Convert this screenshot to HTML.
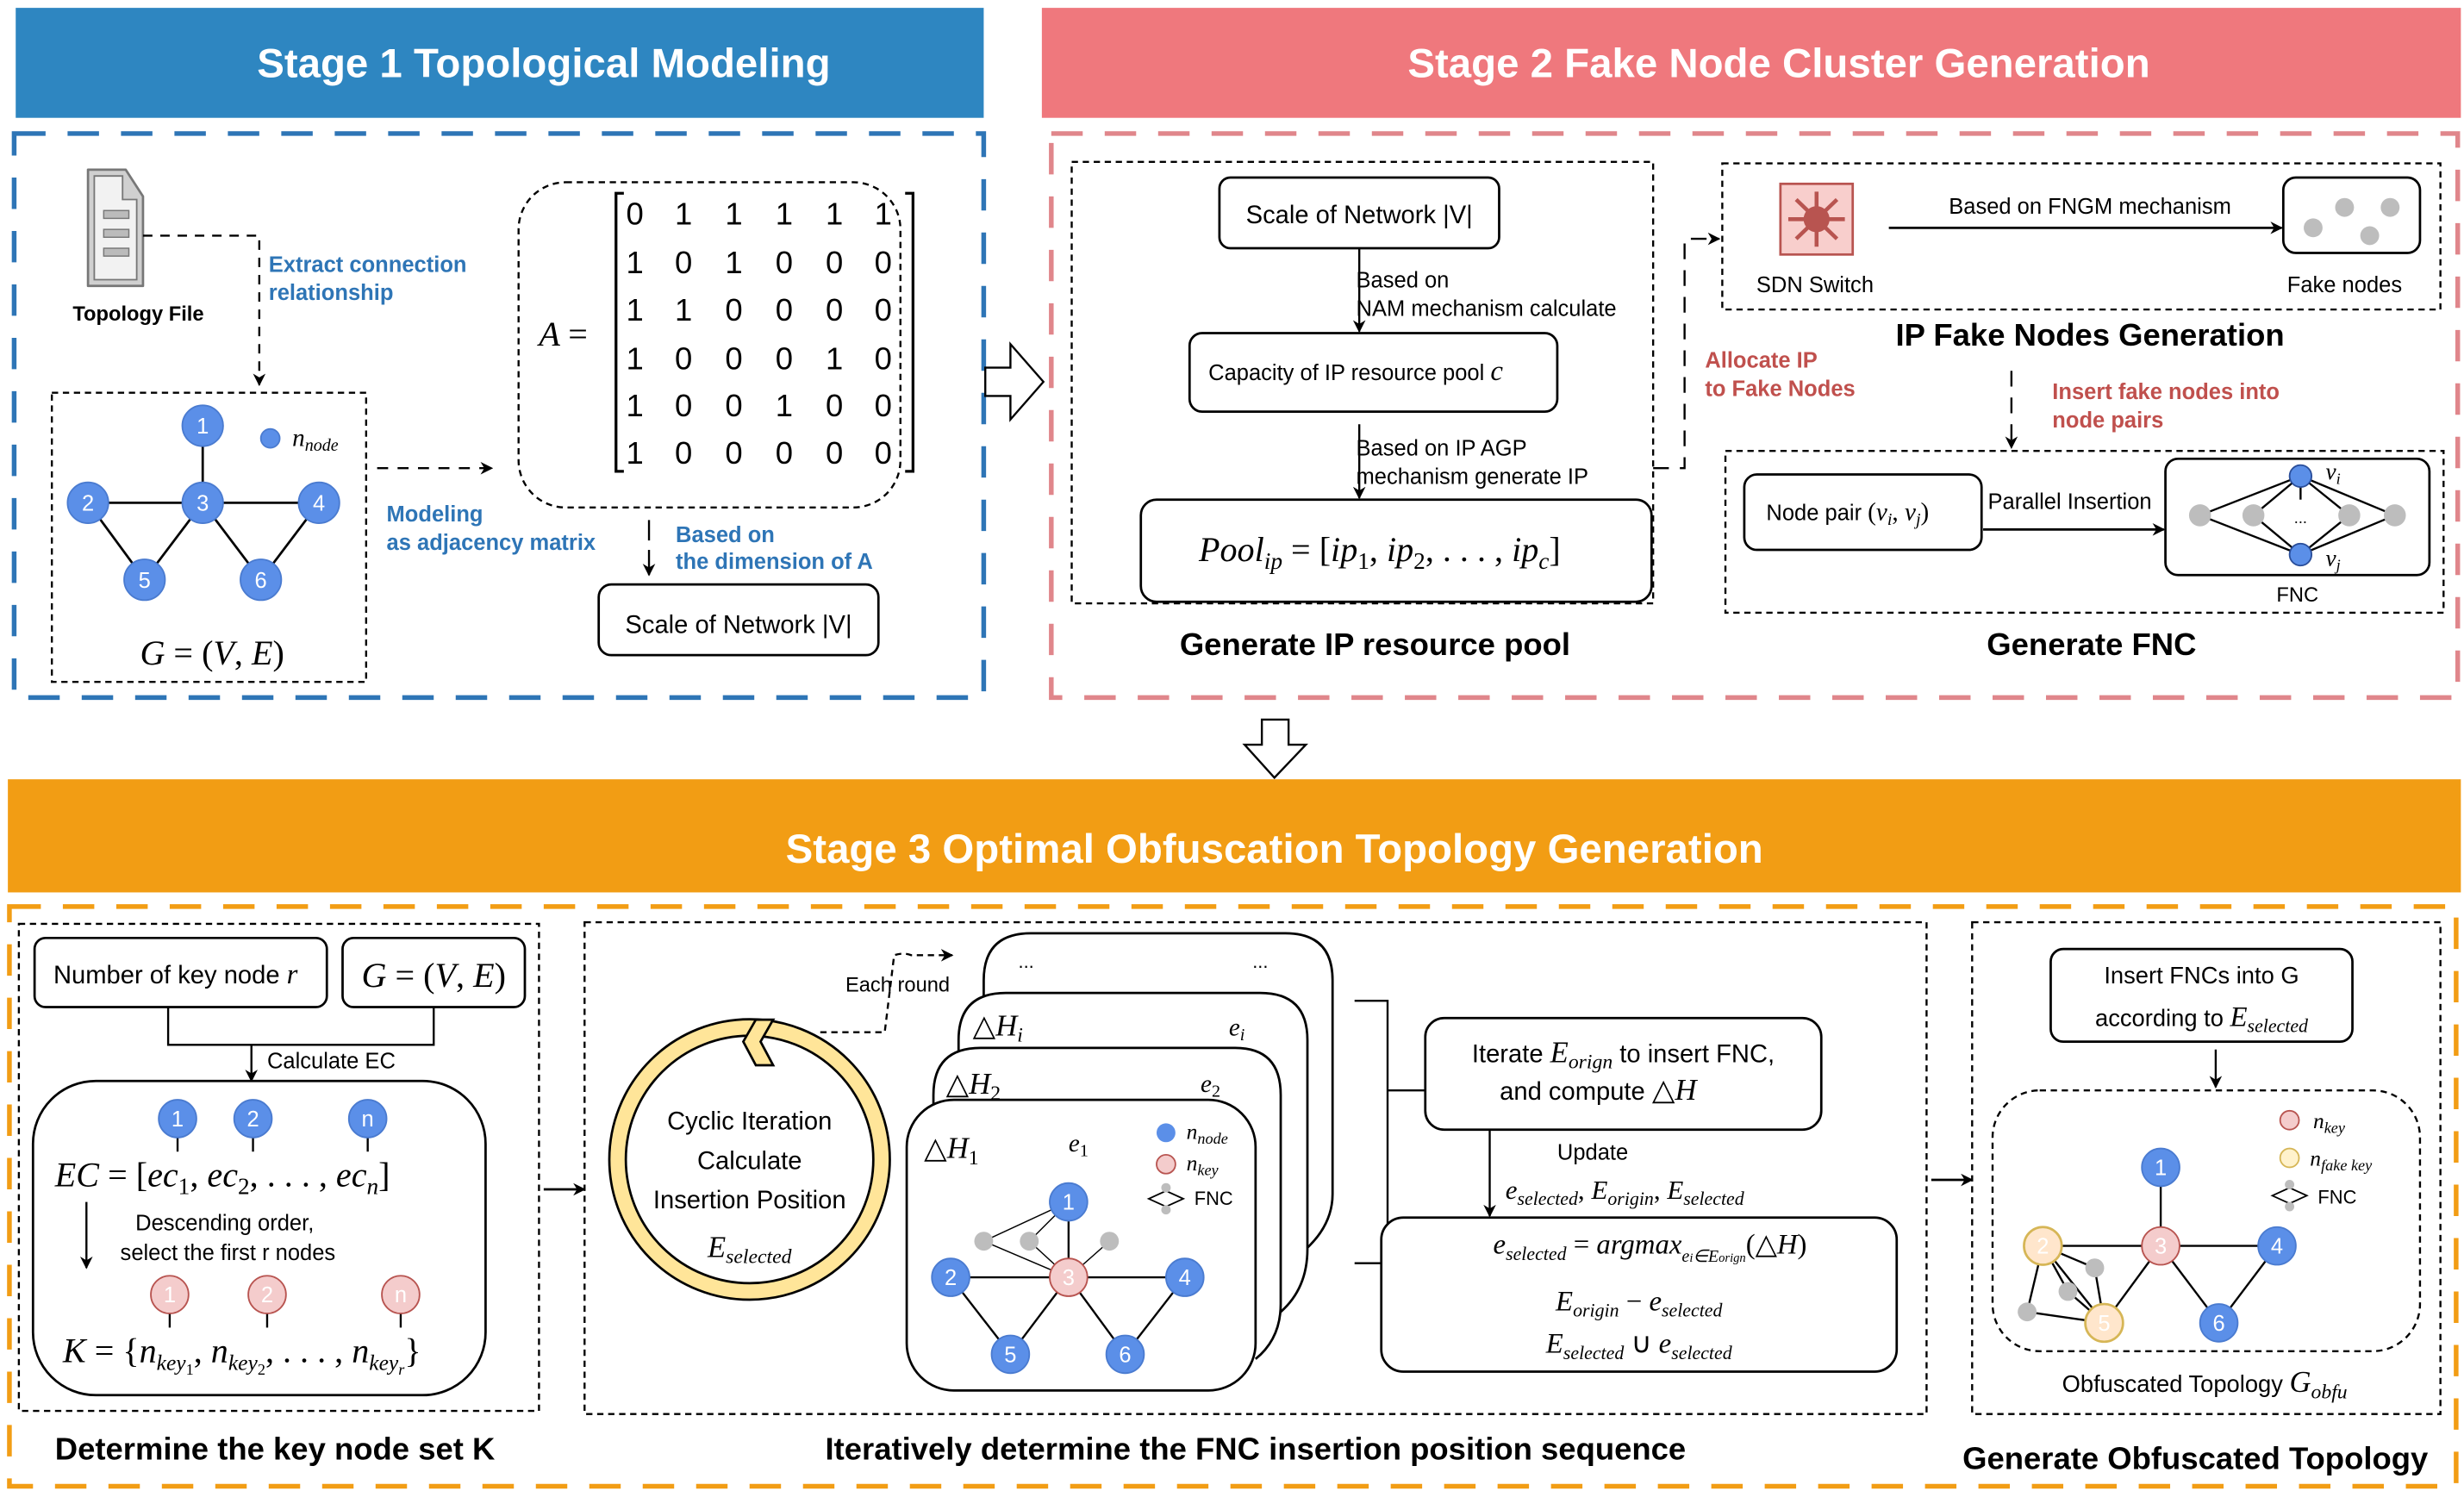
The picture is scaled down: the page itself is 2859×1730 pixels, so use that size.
<!DOCTYPE html>
<html><head><meta charset="utf-8"><style>
html,body{margin:0;padding:0;background:#fff;}
svg{display:block;}
text{font-family:"Liberation Sans",Arial,sans-serif;}
.m{font-family:"Liberation Serif",serif;font-style:italic;}
.mr{font-family:"Liberation Serif",serif;}
.b{font-weight:bold;}
</style></head><body>
<svg width="2859" height="1730" viewBox="0 0 1568 949" preserveAspectRatio="none" xmlns="http://www.w3.org/2000/svg">
<defs>
<marker id="ar" viewBox="0 0 10 10" refX="9" refY="5" markerWidth="8" markerHeight="8" orient="auto-start-reverse" markerUnits="userSpaceOnUse"><path d="M0,0 L10,5 L0,10 L3,5 z" fill="#000"/></marker>
</defs>
<rect width="1568" height="949" fill="#fff"/>

<rect x="10" y="5" width="616" height="70" fill="#2E86C1"/>
<text x="346" y="49" text-anchor="middle" fill="#fff" class="b" font-size="26">Stage 1 Topological Modeling</text>
<rect x="663" y="5" width="903" height="70" fill="#EF787D"/>
<text x="1132" y="49" text-anchor="middle" fill="#fff" class="b" font-size="26">Stage 2 Fake Node Cluster Generation</text>
<rect x="5" y="496" width="1561" height="72" fill="#F29D14"/>
<text x="811" y="549" text-anchor="middle" fill="#fff" class="b" font-size="26">Stage 3 Optimal Obfuscation Topology Generation</text>

<rect x="9" y="85" width="617" height="359" fill="none" stroke="#2E75B6" stroke-width="3" stroke-dasharray="20 14"/>
<rect x="669" y="85" width="895" height="359" fill="none" stroke="#E0868B" stroke-width="3" stroke-dasharray="20 14"/>
<rect x="6" y="577" width="1557" height="369" fill="none" stroke="#F29D14" stroke-width="3" stroke-dasharray="20 14"/>

<path d="M627,234 L643,234 L643,219 L664,243 L643,267 L643,252 L627,252 Z" fill="#fff" stroke="#000" stroke-width="1.3"/>
<path d="M803,458 L820,458 L820,474 L831,474 L811,495 L792,474 L803,474 Z" fill="#fff" stroke="#000" stroke-width="1.3"/>

<path d="M56,108 L80,108 L91,125 L91,182 L56,182 Z" fill="#D0D0D0" stroke="#777" stroke-width="1.5" stroke-linejoin="round"/>
<path d="M60,112 L78,112 L78,127 L87,127 L87,178 L60,178 Z" fill="#F2F2F2" stroke="#777" stroke-width="1"/>
<rect x="66" y="134" width="16" height="5" fill="#BBB" stroke="#777" stroke-width="0.8"/>
<rect x="66" y="146" width="16" height="5" fill="#BBB" stroke="#777" stroke-width="0.8"/>
<rect x="66" y="158" width="16" height="5" fill="#BBB" stroke="#777" stroke-width="0.8"/>
<text x="88" y="204" text-anchor="middle" class="b" font-size="13">Topology File</text>
<path d="M91,150 L165,150 L165,245" fill="none" stroke="#000" stroke-width="1.3" stroke-dasharray="6 5" marker-end="url(#ar)"/>
<text x="171" y="173" fill="#2E75B6" class="b" font-size="14">Extract connection</text>
<text x="171" y="191" fill="#2E75B6" class="b" font-size="14">relationship</text>

<rect x="33" y="250" width="200" height="184" fill="none" stroke="#000" stroke-width="1.3" stroke-dasharray="4 3"/>
<g stroke="#000" stroke-width="1.5">
<line x1="129" y1="271" x2="129" y2="320"/><line x1="56" y1="320" x2="203" y2="320"/>
<line x1="56" y1="320" x2="92" y2="369"/><line x1="129" y1="320" x2="92" y2="369"/>
<line x1="129" y1="320" x2="166" y2="369"/><line x1="203" y1="320" x2="166" y2="369"/>
</g>
<g fill="#5B8FE8" stroke="#4A7BD0" stroke-width="1">
<circle cx="129" cy="271" r="13"/><circle cx="56" cy="320" r="13"/><circle cx="129" cy="320" r="13"/><circle cx="203" cy="320" r="13"/><circle cx="92" cy="369" r="13"/><circle cx="166" cy="369" r="13"/>
<circle cx="172" cy="279" r="6"/>
</g>
<g fill="#fff" font-size="14" text-anchor="middle">
<text x="129" y="276">1</text><text x="56" y="325">2</text><text x="129" y="325">3</text><text x="203" y="325">4</text><text x="92" y="374">5</text><text x="166" y="374">6</text>
</g>
<text x="186" y="284" class="m" font-size="16">n<tspan font-size="11" dy="3">node</tspan></text>
<text x="135" y="423" text-anchor="middle" class="m" font-size="22">G <tspan class="mr" font-style="normal">= (</tspan>V<tspan font-style="normal">, </tspan>E<tspan font-style="normal">)</tspan></text>

<line x1="240" y1="298" x2="313" y2="298" stroke="#000" stroke-width="1.3" stroke-dasharray="7 6" marker-end="url(#ar)"/>
<text x="246" y="332" fill="#2E75B6" class="b" font-size="14">Modeling</text>
<text x="246" y="350" fill="#2E75B6" class="b" font-size="14">as adjacency matrix</text>

<rect x="330" y="116" width="243" height="207" rx="30" fill="none" stroke="#000" stroke-width="1.3" stroke-dasharray="4 3"/>
<text x="343" y="220" class="m" font-size="22">A <tspan font-style="normal">=</tspan></text>
<path d="M397,123 L392,123 L392,300 L397,300" fill="none" stroke="#000" stroke-width="1.8"/>
<path d="M576,123 L581,123 L581,300 L576,300" fill="none" stroke="#000" stroke-width="1.8"/>
<g class="mr" font-size="20" text-anchor="middle">
<text y="143"><tspan x="404">0</tspan><tspan x="435">1</tspan><tspan x="467">1</tspan><tspan x="499">1</tspan><tspan x="531">1</tspan><tspan x="562">1</tspan></text>
<text y="174"><tspan x="404">1</tspan><tspan x="435">0</tspan><tspan x="467">1</tspan><tspan x="499">0</tspan><tspan x="531">0</tspan><tspan x="562">0</tspan></text>
<text y="204"><tspan x="404">1</tspan><tspan x="435">1</tspan><tspan x="467">0</tspan><tspan x="499">0</tspan><tspan x="531">0</tspan><tspan x="562">0</tspan></text>
<text y="235"><tspan x="404">1</tspan><tspan x="435">0</tspan><tspan x="467">0</tspan><tspan x="499">0</tspan><tspan x="531">1</tspan><tspan x="562">0</tspan></text>
<text y="265"><tspan x="404">1</tspan><tspan x="435">0</tspan><tspan x="467">0</tspan><tspan x="499">1</tspan><tspan x="531">0</tspan><tspan x="562">0</tspan></text>
<text y="295"><tspan x="404">1</tspan><tspan x="435">0</tspan><tspan x="467">0</tspan><tspan x="499">0</tspan><tspan x="531">0</tspan><tspan x="562">0</tspan></text>
</g>
<line x1="413" y1="331" x2="413" y2="344" stroke="#000" stroke-width="1.3"/>
<line x1="413" y1="350" x2="413" y2="366" stroke="#000" stroke-width="1.3" marker-end="url(#ar)"/>
<text x="430" y="345" fill="#2E75B6" class="b" font-size="14">Based on</text>
<text x="430" y="362" fill="#2E75B6" class="b" font-size="14">the dimension of A</text>
<rect x="381" y="372" width="178" height="45" rx="8" fill="#fff" stroke="#000" stroke-width="1.5"/>
<text x="470" y="403" text-anchor="middle" font-size="16">Scale of Network  |V|</text>

<rect x="682" y="103" width="370" height="281" fill="none" stroke="#000" stroke-width="1.3" stroke-dasharray="4 3"/>
<rect x="776" y="113" width="178" height="45" rx="7" fill="#fff" stroke="#000" stroke-width="1.5"/>
<text x="865" y="142" text-anchor="middle" font-size="16">Scale of Network  |V|</text>
<line x1="865" y1="158" x2="865" y2="211" stroke="#000" stroke-width="1.3" marker-end="url(#ar)"/>
<text x="863" y="183" font-size="14">Based on</text>
<text x="863" y="201" font-size="14">NAM mechanism calculate</text>
<rect x="757" y="212" width="234" height="50" rx="8" fill="#fff" stroke="#000" stroke-width="1.5"/>
<text x="769" y="242" font-size="14">Capacity of IP resource pool  <tspan class="m" font-size="18">c</tspan></text>
<line x1="865" y1="270" x2="865" y2="317" stroke="#000" stroke-width="1.3" marker-end="url(#ar)"/>
<text x="863" y="290" font-size="14">Based on IP AGP</text>
<text x="863" y="308" font-size="14">mechanism generate IP</text>
<rect x="726" y="318" width="325" height="65" rx="10" fill="#fff" stroke="#000" stroke-width="1.5"/>
<text x="878" y="357" text-anchor="middle" class="m" font-size="22">Pool<tspan font-size="15" dy="5">ip</tspan><tspan dy="-5" font-style="normal"> = [</tspan>ip<tspan font-size="15" dy="5" font-style="normal">1</tspan><tspan dy="-5" font-style="normal">, </tspan>ip<tspan font-size="15" dy="5" font-style="normal">2</tspan><tspan dy="-5" font-style="normal">, . . . , </tspan>ip<tspan font-size="15" dy="5">c</tspan><tspan dy="-5" font-style="normal">]</tspan></text>
<text x="875" y="417" text-anchor="middle" class="b" font-size="20">Generate IP resource pool</text>

<path d="M1052,298 L1072,298 L1072,152 L1094,152" fill="none" stroke="#000" stroke-width="1.3" stroke-dasharray="10 7" marker-end="url(#ar)"/>
<text x="1085" y="234" fill="#C0504D" class="b" font-size="14">Allocate IP</text>
<text x="1085" y="252" fill="#C0504D" class="b" font-size="14">to Fake Nodes</text>

<rect x="1096" y="104" width="457" height="93" fill="none" stroke="#000" stroke-width="1.3" stroke-dasharray="4 3"/>
<rect x="1133" y="117" width="46" height="45" fill="#F8CECC" stroke="#B85450" stroke-width="1.5"/>
<g stroke="#B85450" stroke-width="2.5" fill="#B85450">
<line x1="1156" y1="122" x2="1156" y2="157"/><line x1="1138" y1="139.5" x2="1174" y2="139.5"/>
<line x1="1143" y1="127" x2="1169" y2="152"/><line x1="1169" y1="127" x2="1143" y2="152"/>
<circle cx="1156" cy="139.5" r="7"/>
</g>
<text x="1155" y="186" text-anchor="middle" font-size="14">SDN Switch</text>
<line x1="1202" y1="145" x2="1452" y2="145" stroke="#000" stroke-width="1.5" marker-end="url(#ar)"/>
<text x="1330" y="136" text-anchor="middle" font-size="14">Based on FNGM mechanism</text>
<rect x="1453" y="113" width="87" height="48" rx="8" fill="#fff" stroke="#000" stroke-width="1.5"/>
<g fill="#BDBDBD"><circle cx="1472" cy="145" r="6"/><circle cx="1492" cy="132" r="6"/><circle cx="1521" cy="132" r="6"/><circle cx="1508" cy="150" r="6"/></g>
<text x="1492" y="186" text-anchor="middle" font-size="14">Fake nodes</text>
<text x="1330" y="220" text-anchor="middle" class="b" font-size="20">IP Fake Nodes Generation</text>
<line x1="1280" y1="236" x2="1280" y2="285" stroke="#000" stroke-width="1.3" stroke-dasharray="10 7" marker-end="url(#ar)"/>
<text x="1306" y="254" fill="#C0504D" class="b" font-size="14">Insert fake nodes into</text>
<text x="1306" y="272" fill="#C0504D" class="b" font-size="14">node pairs</text>

<rect x="1098" y="287" width="457" height="103" fill="none" stroke="#000" stroke-width="1.3" stroke-dasharray="4 3"/>
<rect x="1110" y="302" width="151" height="48" rx="8" fill="#fff" stroke="#000" stroke-width="1.5"/>
<text x="1124" y="331" font-size="14">Node pair  <tspan class="m" font-size="16"><tspan font-style="normal">(</tspan>v<tspan font-size="11" dy="3">i</tspan><tspan dy="-3" font-style="normal">, </tspan>v<tspan font-size="11" dy="3">j</tspan><tspan dy="-3" font-style="normal">)</tspan></tspan></text>
<text x="1265" y="324" font-size="14">Parallel Insertion</text>
<line x1="1262" y1="337" x2="1377" y2="337" stroke="#000" stroke-width="1.5" marker-end="url(#ar)"/>
<rect x="1378" y="292" width="168" height="74" rx="8" fill="#fff" stroke="#000" stroke-width="1.5"/>
<g stroke="#000" stroke-width="1.3">
<line x1="1464" y1="303" x2="1400" y2="328"/><line x1="1464" y1="303" x2="1434" y2="328"/><line x1="1464" y1="303" x2="1495" y2="328"/><line x1="1464" y1="303" x2="1524" y2="328"/>
<line x1="1464" y1="353" x2="1400" y2="328"/><line x1="1464" y1="353" x2="1434" y2="328"/><line x1="1464" y1="353" x2="1495" y2="328"/><line x1="1464" y1="353" x2="1524" y2="328"/>
<line x1="1464" y1="310" x2="1464" y2="318"/>
</g>
<g fill="#BDBDBD"><circle cx="1400" cy="328" r="7"/><circle cx="1434" cy="328" r="7"/><circle cx="1495" cy="328" r="7"/><circle cx="1524" cy="328" r="7"/></g>
<text x="1464" y="333" text-anchor="middle" font-size="10">...</text>
<g fill="#5B8FE8" stroke="#2A4E9A" stroke-width="1"><circle cx="1464" cy="303" r="7"/><circle cx="1464" cy="353" r="7"/></g>
<text x="1480" y="305" class="m" font-size="15">v<tspan font-size="10" dy="3">i</tspan></text>
<text x="1480" y="360" class="m" font-size="15">v<tspan font-size="10" dy="3">j</tspan></text>
<text x="1462" y="383" text-anchor="middle" font-size="13">FNC</text>
<text x="1331" y="417" text-anchor="middle" class="b" font-size="20">Generate FNC</text>

<rect x="12" y="588" width="331" height="310" fill="none" stroke="#000" stroke-width="1.3" stroke-dasharray="4 3"/>
<rect x="22" y="597" width="186" height="44" rx="7" fill="#fff" stroke="#000" stroke-width="1.5"/>
<text x="34" y="626" font-size="16">Number of key node <tspan class="m" font-size="18">r</tspan></text>
<rect x="218" y="597" width="116" height="44" rx="7" fill="#fff" stroke="#000" stroke-width="1.5"/>
<text x="276" y="628" text-anchor="middle" class="m" font-size="22">G <tspan font-style="normal">= (</tspan>V<tspan font-style="normal">, </tspan>E<tspan font-style="normal">)</tspan></text>
<path d="M107,641 L107,665 L276,665 L276,641" fill="none" stroke="#000" stroke-width="1.3"/>
<line x1="160" y1="665" x2="160" y2="688" stroke="#000" stroke-width="1.3" marker-end="url(#ar)"/>
<text x="170" y="680" font-size="14">Calculate EC</text>
<rect x="21" y="688" width="288" height="200" rx="40" fill="#fff" stroke="#000" stroke-width="1.5"/>
<g stroke="#000" stroke-width="1.3"><line x1="113" y1="724" x2="113" y2="733"/><line x1="161" y1="724" x2="161" y2="733"/><line x1="234" y1="724" x2="234" y2="733"/>
<line x1="108" y1="836" x2="108" y2="845"/><line x1="170" y1="836" x2="170" y2="845"/><line x1="255" y1="836" x2="255" y2="845"/></g>
<g fill="#5B8FE8" stroke="#4A7BD0"><circle cx="113" cy="712" r="12"/><circle cx="161" cy="712" r="12"/><circle cx="234" cy="712" r="12"/></g>
<g fill="#fff" font-size="14" text-anchor="middle"><text x="113" y="717">1</text><text x="161" y="717">2</text><text x="234" y="717">n</text></g>
<text x="35" y="755" class="m" font-size="22">EC <tspan font-style="normal">= [</tspan>ec<tspan font-size="15" dy="5" font-style="normal">1</tspan><tspan dy="-5" font-style="normal">, </tspan>ec<tspan font-size="15" dy="5" font-style="normal">2</tspan><tspan dy="-5" font-style="normal">, . . . , </tspan>ec<tspan font-size="15" dy="5">n</tspan><tspan dy="-5" font-style="normal">]</tspan></text>
<line x1="55" y1="765" x2="55" y2="807" stroke="#000" stroke-width="1.3" marker-end="url(#ar)"/>
<text x="143" y="783" text-anchor="middle" font-size="14">Descending order,</text>
<text x="145" y="802" text-anchor="middle" font-size="14">select the first r nodes</text>
<g fill="#F4CCCC" stroke="#B85450"><circle cx="108" cy="824" r="12"/><circle cx="170" cy="824" r="12"/><circle cx="255" cy="824" r="12"/></g>
<g fill="#fff" font-size="14" text-anchor="middle"><text x="108" y="829">1</text><text x="170" y="829">2</text><text x="255" y="829">n</text></g>
<text x="40" y="867" class="m" font-size="22">K <tspan font-style="normal">= {</tspan>n<tspan font-size="14" dy="5">key</tspan><tspan font-size="10" dy="3" font-style="normal">1</tspan><tspan dy="-8" font-style="normal">, </tspan>n<tspan font-size="14" dy="5">key</tspan><tspan font-size="10" dy="3" font-style="normal">2</tspan><tspan dy="-8" font-style="normal">, . . . , </tspan>n<tspan font-size="14" dy="5">key</tspan><tspan font-size="10" dy="3">r</tspan><tspan dy="-8" font-style="normal">}</tspan></text>
<text x="175" y="929" text-anchor="middle" class="b" font-size="20">Determine the key node set K</text>

<line x1="346" y1="757" x2="372" y2="757" stroke="#000" stroke-width="1.5" marker-end="url(#ar)"/>

<rect x="372" y="587" width="854" height="313" fill="none" stroke="#000" stroke-width="1.3" stroke-dasharray="4 3"/>
<circle cx="477" cy="738" r="84" fill="none" stroke="#000" stroke-width="12"/>
<circle cx="477" cy="738" r="84" fill="none" stroke="#FFE599" stroke-width="9"/>
<path d="M481,649 L492,649 L484,663 L492,678 L481,678 L473,663 Z" fill="#FFE599" stroke="#000" stroke-width="1.5"/>
<text x="477" y="719" text-anchor="middle" font-size="16">Cyclic Iteration</text>
<text x="477" y="744" text-anchor="middle" font-size="16">Calculate</text>
<text x="477" y="769" text-anchor="middle" font-size="16">Insertion Position</text>
<text x="477" y="800" text-anchor="middle" class="m" font-size="19">E<tspan font-size="13" dy="4">selected</tspan></text>
<text x="538" y="631" font-size="13">Each round</text>
<path d="M522,657 L563,657 L569,608 Q575,606 580,608 L606,608" fill="none" stroke="#000" stroke-width="1.3" stroke-dasharray="4 3" marker-end="url(#ar)"/>

<path d="M626,790 L626,624 Q626,594 656,594 L818,594 Q848,594 848,624 L848,760 Q848,780 830,796" fill="#fff" stroke="#000" stroke-width="1.5"/>
<path d="M610,830 L610,662 Q610,632 640,632 L802,632 Q832,632 832,662 L832,795 Q832,820 815,835" fill="#fff" stroke="#000" stroke-width="1.5"/>
<path d="M594,862 L594,697 Q594,667 624,667 L786,667 Q815,667 815,697 L815,830 Q815,852 799,865" fill="#fff" stroke="#000" stroke-width="1.5"/>
<rect x="577" y="700" width="222" height="185" rx="30" fill="#fff" stroke="#000" stroke-width="1.5"/>
<text x="648" y="616" font-size="12">...</text><text x="797" y="616" font-size="12">...</text>
<text x="619" y="659" class="m" font-size="19"><tspan font-style="normal">△</tspan>H<tspan font-size="13" dy="4">i</tspan></text>
<text x="782" y="659" class="m" font-size="16">e<tspan font-size="11" dy="3">i</tspan></text>
<text x="602" y="696" class="m" font-size="19"><tspan font-style="normal">△</tspan>H<tspan font-size="13" dy="4" font-style="normal">2</tspan></text>
<text x="764" y="695" class="m" font-size="16">e<tspan font-size="11" dy="3" font-style="normal">2</tspan></text>
<text x="588" y="737" class="m" font-size="19"><tspan font-style="normal">△</tspan>H<tspan font-size="13" dy="4" font-style="normal">1</tspan></text>
<text x="680" y="733" class="m" font-size="16">e<tspan font-size="11" dy="3" font-style="normal">1</tspan></text>
<circle cx="742" cy="721" r="6" fill="#5B8FE8"/>
<text x="755" y="725" class="m" font-size="14">n<tspan font-size="10" dy="3">node</tspan></text>
<circle cx="742" cy="741" r="6" fill="#F4CCCC" stroke="#B85450"/>
<text x="755" y="745" class="m" font-size="14">n<tspan font-size="10" dy="3">key</tspan></text>
<path d="M731,763 L742,758 L753,763 L742,768 Z" fill="none" stroke="#000" stroke-width="1"/>
<circle cx="742" cy="756" r="3" fill="#BDBDBD"/><circle cx="742" cy="770" r="3" fill="#BDBDBD"/>
<text x="760" y="767" font-size="12">FNC</text>
<g stroke="#000" stroke-width="1.3">
<line x1="680" y1="765" x2="680" y2="813"/><line x1="605" y1="813" x2="754" y2="813"/>
<line x1="605" y1="813" x2="643" y2="862"/><line x1="680" y1="813" x2="643" y2="862"/>
<line x1="680" y1="813" x2="716" y2="862"/><line x1="754" y1="813" x2="716" y2="862"/>
</g>
<g stroke="#000" stroke-width="0.8">
<line x1="680" y1="765" x2="626" y2="790"/><line x1="626" y1="790" x2="680" y2="813"/>
<line x1="680" y1="765" x2="655" y2="790"/><line x1="655" y1="790" x2="680" y2="813"/>
<line x1="706" y1="790" x2="680" y2="813"/>
</g>
<g fill="#BDBDBD"><circle cx="626" cy="790" r="6"/><circle cx="655" cy="790" r="6"/><circle cx="706" cy="790" r="6"/></g>
<g fill="#5B8FE8" stroke="#4A7BD0"><circle cx="680" cy="765" r="12"/><circle cx="605" cy="813" r="12"/><circle cx="754" cy="813" r="12"/><circle cx="643" cy="862" r="12"/><circle cx="716" cy="862" r="12"/></g>
<circle cx="680" cy="813" r="12" fill="#F4CCCC" stroke="#B85450"/>
<g fill="#fff" font-size="14" text-anchor="middle"><text x="680" y="770">1</text><text x="605" y="818">2</text><text x="680" y="818">3</text><text x="754" y="818">4</text><text x="643" y="867">5</text><text x="716" y="867">6</text></g>

<path d="M862,637 L883,637 L883,804 L862,804 M883,694 L907,694" fill="none" stroke="#000" stroke-width="1.3"/>
<rect x="907" y="648" width="252" height="71" rx="12" fill="#fff" stroke="#000" stroke-width="1.5"/>
<text x="1033" y="676" text-anchor="middle" font-size="16">Iterate <tspan class="m" font-size="19">E<tspan font-size="13" dy="4">orign</tspan></tspan><tspan dy="-4"> to insert FNC,</tspan></text>
<text x="1017" y="700" text-anchor="middle" font-size="16">and compute <tspan class="mr" font-size="19">△<tspan font-style="italic">H</tspan></tspan></text>
<line x1="948" y1="719" x2="948" y2="774" stroke="#000" stroke-width="1.3" marker-end="url(#ar)"/>
<text x="991" y="738" font-size="14">Update</text>
<text x="958" y="763" class="m" font-size="17">e<tspan font-size="12" dy="4">selected</tspan><tspan dy="-4" font-style="normal">, </tspan>E<tspan font-size="12" dy="4">origin</tspan><tspan dy="-4" font-style="normal">, </tspan>E<tspan font-size="12" dy="4">selected</tspan></text>
<rect x="879" y="775" width="328" height="98" rx="14" fill="#fff" stroke="#000" stroke-width="1.5"/>
<text x="1050" y="798" text-anchor="middle" class="m" font-size="18">e<tspan font-size="12" dy="4">selected</tspan><tspan dy="-4" font-style="normal"> = </tspan>argmax<tspan font-size="11" dy="5">e<tspan font-size="8">i</tspan>∈E<tspan font-size="8">orign</tspan></tspan><tspan dy="-5" font-style="normal">(△</tspan>H<tspan font-style="normal">)</tspan></text>
<text x="1043" y="834" text-anchor="middle" class="m" font-size="18">E<tspan font-size="12" dy="4">origin</tspan><tspan dy="-4" font-style="normal"> − </tspan>e<tspan font-size="12" dy="4">selected</tspan></text>
<text x="1043" y="861" text-anchor="middle" class="m" font-size="18">E<tspan font-size="12" dy="4">selected</tspan><tspan dy="-4" font-style="normal"> ∪ </tspan>e<tspan font-size="12" dy="4">selected</tspan></text>
<text x="799" y="929" text-anchor="middle" class="b" font-size="20">Iteratively determine the FNC insertion position sequence</text>

<line x1="1229" y1="751" x2="1255" y2="751" stroke="#000" stroke-width="1.5" marker-end="url(#ar)"/>

<rect x="1255" y="587" width="298" height="313" fill="none" stroke="#000" stroke-width="1.3" stroke-dasharray="4 3"/>
<rect x="1305" y="604" width="192" height="59" rx="8" fill="#fff" stroke="#000" stroke-width="1.5"/>
<text x="1401" y="626" text-anchor="middle" font-size="15">Insert FNCs into G</text>
<text x="1401" y="653" text-anchor="middle" font-size="15">according to <tspan class="m" font-size="18">E<tspan font-size="12" dy="4">selected</tspan></tspan></text>
<line x1="1410" y1="668" x2="1410" y2="692" stroke="#000" stroke-width="1.3" marker-end="url(#ar)"/>
<rect x="1268" y="694" width="272" height="166" rx="30" fill="none" stroke="#000" stroke-width="1.3" stroke-dasharray="4 3"/>
<circle cx="1457" cy="713" r="6" fill="#F4CCCC" stroke="#B85450"/>
<text x="1472" y="718" class="m" font-size="14">n<tspan font-size="10" dy="3">key</tspan></text>
<circle cx="1457" cy="737" r="6" fill="#FFF2CC" stroke="#D6B656"/>
<text x="1470" y="742" class="m" font-size="14">n<tspan font-size="10" dy="3">fake key</tspan></text>
<path d="M1446,761 L1457,756 L1468,761 L1457,766 Z" fill="none" stroke="#000" stroke-width="1"/>
<circle cx="1457" cy="754" r="3" fill="#BDBDBD"/><circle cx="1457" cy="768" r="3" fill="#BDBDBD"/>
<text x="1475" y="766" font-size="12">FNC</text>
<g stroke="#000" stroke-width="1.3">
<line x1="1375" y1="743" x2="1375" y2="793"/><line x1="1300" y1="793" x2="1449" y2="793"/>
<line x1="1375" y1="793" x2="1339" y2="842"/><line x1="1375" y1="793" x2="1412" y2="842"/><line x1="1449" y1="793" x2="1412" y2="842"/>
<line x1="1300" y1="793" x2="1290" y2="835"/><line x1="1290" y1="835" x2="1339" y2="842"/>
<line x1="1300" y1="793" x2="1316" y2="822"/><line x1="1316" y1="822" x2="1339" y2="842"/>
<line x1="1300" y1="793" x2="1333" y2="807"/><line x1="1333" y1="807" x2="1339" y2="842"/>
<line x1="1300" y1="793" x2="1339" y2="842"/>
</g>
<g fill="#BDBDBD"><circle cx="1290" cy="835" r="6"/><circle cx="1316" cy="822" r="6"/><circle cx="1333" cy="807" r="6"/></g>
<g fill="#FFE6CC" stroke="#D6B656" stroke-width="1.5"><circle cx="1300" cy="793" r="12"/><circle cx="1339" cy="842" r="12"/></g>
<circle cx="1375" cy="793" r="12" fill="#F4CCCC" stroke="#B85450"/>
<g fill="#5B8FE8" stroke="#4A7BD0"><circle cx="1375" cy="743" r="12"/><circle cx="1449" cy="793" r="12"/><circle cx="1412" cy="842" r="12"/></g>
<g fill="#fff" font-size="14" text-anchor="middle"><text x="1375" y="748">1</text><text x="1300" y="798">2</text><text x="1375" y="798">3</text><text x="1449" y="798">4</text><text x="1339" y="847">5</text><text x="1412" y="847">6</text></g>
<text x="1403" y="886" text-anchor="middle" font-size="15">Obfuscated Topology <tspan class="m" font-size="19">G<tspan font-size="13" dy="4">obfu</tspan></tspan></text>
<text x="1397" y="935" text-anchor="middle" class="b" font-size="20">Generate Obfuscated Topology</text>
</svg>
</body></html>
